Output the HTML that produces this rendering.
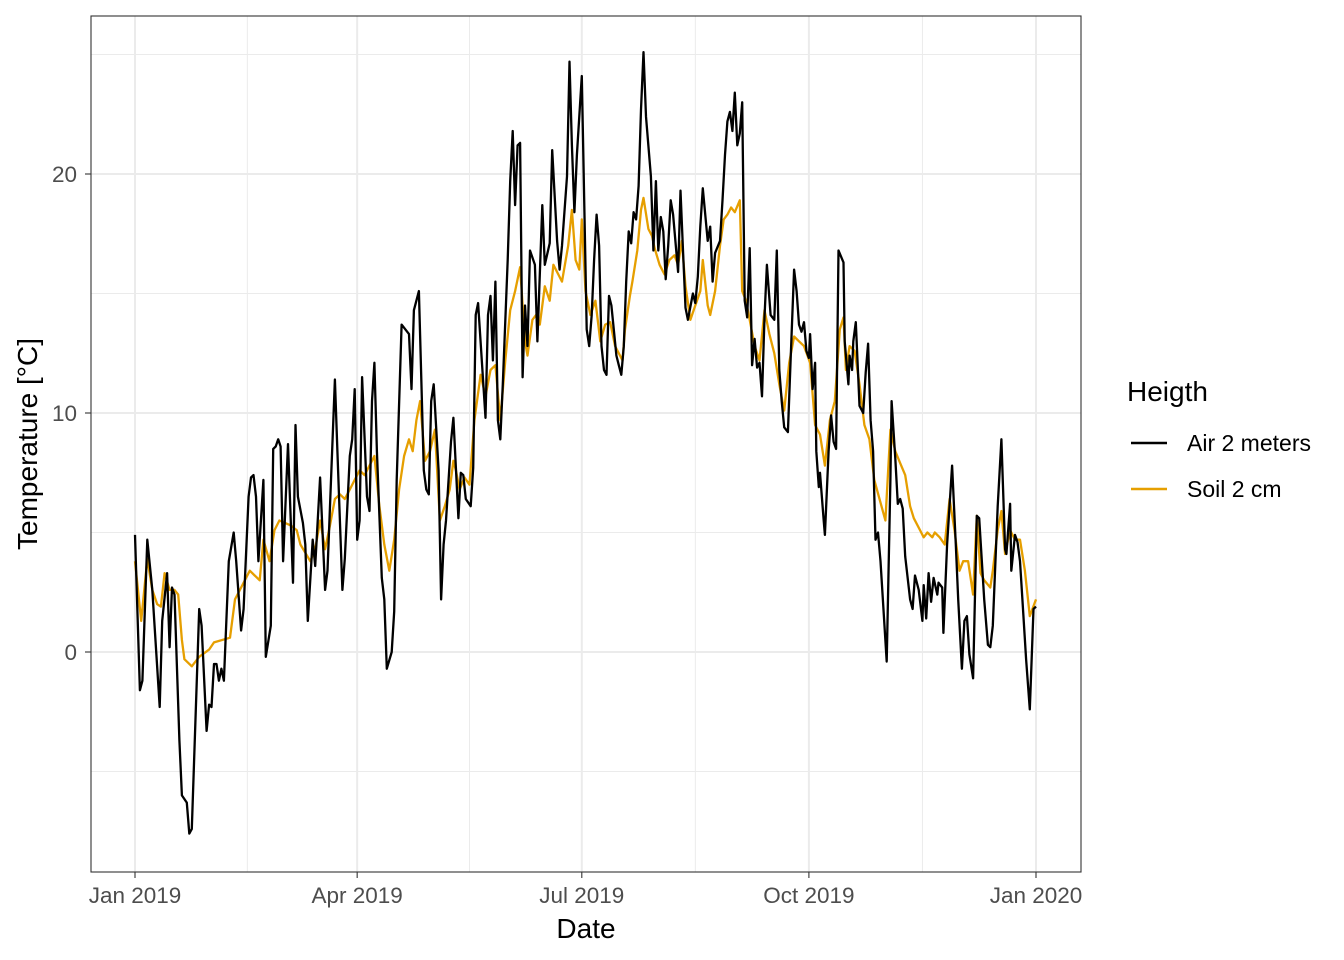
<!DOCTYPE html>
<html><head><meta charset="utf-8"><style>
html,body{margin:0;padding:0;background:#fff}
svg{display:block;font-family:"Liberation Sans",sans-serif}
</style></head><body>
<svg id="chart" width="1344" height="960" viewBox="0 0 1344 960" xmlns="http://www.w3.org/2000/svg">
<rect x="0" y="0" width="1344" height="960" fill="#fff"/>
<g id="grid"></g>
<g id="series"></g>
<rect x="91" y="16" width="990" height="856" fill="none" stroke="#333" stroke-width="1.1"/>
<g id="axes"></g>
<text x="586" y="938" font-size="28" text-anchor="middle" fill="#000">Date</text>
<text transform="translate(37,444) rotate(-90)" font-size="28" text-anchor="middle" fill="#000">Temperature [°C]</text>
<g>
<text x="1127" y="401" font-size="28" fill="#000">Heigth</text>
<g><line x1="1131" y1="443" x2="1167" y2="443" stroke="#000" stroke-width="2.5"/><text x="1187" y="451" font-size="23" fill="#000">Air 2 meters</text></g>
<g><line x1="1131" y1="489" x2="1167" y2="489" stroke="#E69F00" stroke-width="2.5"/><text x="1187" y="497" font-size="23" fill="#000">Soil 2 cm</text></g>
</g>
</svg>
<script>
const xTickDays=[0,90,181,273,365];
const xTickLabels=["Jan 2019","Apr 2019","Jul 2019","Oct 2019","Jan 2020"];
const xMinorDays=[45.5,135.5,227,319];
const yTicks=[0,10,20];
const yMinor=[-5,5,15,25];
const airDays=[0,2,3,5,7,10,11,13,14,15,16,18,19,21,22,23,26,27,29,30,31,32,33,34,35,36,38,40,41,43,44,46,47,48,49,50,52,53,55,56,57,58,59,60,62,64,65,66,68,69,70,72,73,75,77,78,81,82,84,85,87,88,89,90,91,92,94,95,96,97,98,100,101,102,104,105,106,108,111,112,113,115,117,118,119,120,121,123,124,125,126,128,129,131,132,133,134,136,137,138,139,142,143,144,145,146,147,148,149,151,152,153,154,155,156,157,158,159,160,162,163,165,166,168,169,171,172,173,175,176,177,178,179,181,183,184,185,186,187,188,189,190,191,192,193,195,196,197,198,199,200,201,202,203,204,205,206,207,209,210,211,212,213,214,215,216,217,218,220,221,222,223,224,226,227,228,229,230,232,233,234,235,237,238,239,240,241,242,243,244,245,246,247,248,249,250,251,252,253,254,255,256,257.5,259,260,261,262,263,264.5,266,267,268,269,270,271,272,273,273.5,274.5,275.5,276,277,277.5,279,279.5,281,282,283,284,285,287,287.5,289,289.5,290.5,291,292,293.5,295,296,297,298,299,300,301,302,304.5,306,306.5,308,309,310,311,312,314,315,316,317.5,319,319.5,320.5,321.5,322.5,323.5,325,325.5,327,327.5,329,331,332.5,333.5,335,336,337,338,339.5,341,342,344,345.5,346.5,347.5,349.5,351,352.5,353,354.5,355,356.5,357.5,358.5,359.5,361,362.5,364,365];
const airTemp=[4.9,-1.6,-1.2,4.7,2.6,-2.3,1.3,3.3,0.2,2.7,2.4,-3.7,-6.0,-6.3,-7.6,-7.4,1.8,1.1,-3.3,-2.2,-2.3,-0.5,-0.5,-1.2,-0.7,-1.2,3.8,5.0,3.8,0.9,1.8,6.5,7.3,7.4,6.5,3.8,7.2,-0.2,1.1,8.5,8.6,8.9,8.6,3.8,8.7,2.9,9.5,6.5,5.4,4.5,1.3,4.7,3.6,7.3,2.6,3.4,11.4,8.4,2.6,3.9,8.2,8.9,11.0,4.7,5.5,11.5,6.5,5.9,10.5,12.1,8.4,3.1,2.2,-0.7,0,1.7,7.2,13.7,13.3,11.0,14.3,15.1,7.6,6.8,6.6,10.5,11.2,7.6,2.2,4.5,5.5,8.8,9.8,5.6,7.5,7.4,6.4,6.1,7.7,14.1,14.6,9.8,14.1,14.9,12.2,15.5,9.7,8.9,11.2,16.4,19.7,21.8,18.7,21.2,21.3,11.5,14.5,12.8,16.8,16.2,13.0,18.7,16.2,17.1,21.0,17.2,16.0,17.0,19.9,24.7,21.2,18.4,20.8,24.1,13.5,12.8,14.1,16.4,18.3,17.0,12.8,11.8,11.6,14.9,14.5,12.4,12.0,11.6,12.8,15.5,17.6,17.1,18.4,18.1,19.5,22.7,25.1,22.4,19.9,16.8,19.7,16.8,18.2,17.6,15.6,17.0,18.9,18.3,15.9,19.3,16.8,14.4,13.9,15.0,14.6,15.7,17.8,19.4,17.2,17.8,15.5,16.7,17.2,18.9,20.8,22.2,22.6,21.8,23.4,21.2,21.7,23.0,14.7,14.0,16.9,12.0,13.1,11.9,12.1,10.7,14.0,16.2,14.1,13.9,16.8,11.8,10.5,9.4,9.2,13.3,16.0,15.1,13.7,13.4,13.8,12.6,12.3,13.3,11.0,12.1,8.4,6.9,7.5,5.5,4.9,8.4,9.9,8.8,8.5,16.8,16.3,13.0,11.2,12.4,11.8,13.0,13.8,10.3,10.0,11.7,12.9,9.7,8.4,4.7,5.0,3.8,-0.4,7.2,10.5,8.1,6.2,6.4,6.0,4.0,2.2,1.8,3.2,2.6,1.3,2.8,1.4,3.3,2.1,3.1,2.4,2.9,2.7,0.8,4.5,7.8,4.5,2.2,-0.7,1.3,1.5,-0.1,-1.1,5.7,5.6,2.2,0.3,0.2,1.1,6.1,8.9,4.3,4.1,6.2,3.4,4.9,4.6,3.8,2.2,-0.3,-2.4,1.8,1.9];
const soilDays=[0,2.5,5,7,9,10.5,12,14,16,17.5,19,20,23,26,30,32,38.5,40.5,42.5,46.5,48.5,50.5,52,54.5,56.5,58.5,63,65.5,67,71,73,75,77,79,81,83,85,87,89,91,93,97,99,101,103,105,107,109,111,112.5,114,115.5,117.5,119.5,121.5,123.5,125.5,127.5,129,130,131.5,133.5,135.5,137.5,140,142,144,146,148,150,152,154,156,158,159,161,162.5,164,166,168,169.5,171.5,173,175.5,177,178.5,180,181,182.5,184.5,186.5,188.5,190.5,192.5,194.5,197.5,198.5,200.5,201.5,203.5,205,206,208,209.5,210.5,212.5,214.5,216.5,218.5,220,221.5,223,225,227,229,230,232,233,235,237,238.5,240,241.5,243,245,246,247.5,249,251,253,255,257,259,261,263,265,267,269,271,273.5,275.5,277.5,279.5,281.5,283.5,285.5,287,288,289.5,291.5,293.5,295.5,297.5,299.5,304,306,308,310,312,314,315.5,318,319.5,321,323,324,326,328,330,332,334,335.5,337.5,339.5,341,342.5,344,346.5,347.5,349.5,351,352.5,354.5,356.5,358.5,360.5,362.5,365];
const soilTemp=[3.8,1.3,3.9,2.6,2.0,1.9,3.3,2.6,2.6,2.4,0.5,-0.3,-0.6,-0.2,0.1,0.4,0.6,2.2,2.6,3.4,3.2,3.0,4.7,3.8,5.1,5.5,5.3,5.1,4.5,3.8,4.3,5.5,4.3,5.3,6.4,6.6,6.4,6.8,7.2,7.6,7.4,8.2,6.1,4.5,3.4,4.7,6.8,8.2,8.9,8.4,9.7,10.5,8.0,8.4,9.3,5.5,6.1,6.8,8.0,7.6,6.8,7.3,7.0,9.7,11.6,10.7,11.8,12.0,9.7,12.2,14.3,15.1,16.1,13.0,12.4,13.9,14.1,13.7,15.3,14.7,16.2,15.8,15.5,17.0,18.5,16.4,16.0,18.1,15.1,14.1,14.7,13.0,13.7,13.8,12.8,12.2,13.5,14.9,15.5,16.8,18.5,19.0,17.7,17.4,16.9,16.2,15.8,16.4,16.6,16.2,17.2,15.3,13.9,14.5,15.1,16.4,14.5,14.1,15.1,17.0,18.1,18.3,18.6,18.4,18.9,15.1,14.7,13.9,12.8,12.2,14.3,13.3,12.5,11.2,10.1,12.1,13.2,13.0,12.8,12.1,9.5,9.1,7.8,9.7,10.5,13.5,14.0,11.8,12.8,12.6,11.2,9.5,8.9,7.2,5.5,9.3,8.4,7.9,7.4,6.1,5.6,5.1,4.8,5.0,4.8,5.0,4.8,4.5,6.4,5.1,3.4,3.8,3.8,2.4,5.7,3.3,3.0,2.7,3.4,5.1,5.9,4.1,5.1,4.7,4.7,3.4,1.5,2.2];

const NS="http://www.w3.org/2000/svg";
const X=d=>135+d*(901/365);
const Y=v=>652-v*23.9;
function mk(tag,attrs,parent){const e=document.createElementNS(NS,tag);for(const k in attrs)e.setAttribute(k,attrs[k]);parent.appendChild(e);return e;}
const grid=document.getElementById('grid'),axes=document.getElementById('axes'),series=document.getElementById('series');
yMinor.forEach(v=>{const l=mk('line',{x1:91,x2:1081,y1:Y(v),y2:Y(v),stroke:'#ebebeb','stroke-width':1},grid);

});
xMinorDays.forEach(d=>{const l=mk('line',{x1:X(d),x2:X(d),y1:16,y2:872,stroke:'#ebebeb','stroke-width':1},grid);

});
yTicks.forEach(v=>{const l=mk('line',{x1:91,x2:1081,y1:Y(v),y2:Y(v),stroke:'#ebebeb','stroke-width':2},grid);


const t=mk('line',{x1:85,x2:91,y1:Y(v),y2:Y(v),stroke:'#333','stroke-width':1.1},axes);


const tx=mk('text',{x:77,y:Y(v)+8,'font-size':22.5,'text-anchor':'end',fill:'#4d4d4d'},axes);tx.textContent=v;

});
xTickDays.forEach((d,i)=>{const l=mk('line',{x1:X(d),x2:X(d),y1:16,y2:872,stroke:'#ebebeb','stroke-width':2},grid);


const t=mk('line',{x1:X(d),x2:X(d),y1:872,y2:878,stroke:'#333','stroke-width':1.1},axes);


const tx=mk('text',{x:X(d),y:903,'font-size':22.5,'text-anchor':'middle',fill:'#4d4d4d'},axes);tx.textContent=xTickLabels[i];

});
function line(days,vals,color,name){const p=mk('path',{d:days.map((d,i)=>(i?'L':'M')+X(d).toFixed(1)+','+Y(vals[i]).toFixed(1)).join(''),fill:'none',stroke:color,'stroke-width':2.3,'stroke-linejoin':'round'},series);

}
line(soilDays,soilTemp,'#E69F00','soil-2cm-line');
line(airDays,airTemp,'#000','air-2m-line');
</script>
</body></html>
